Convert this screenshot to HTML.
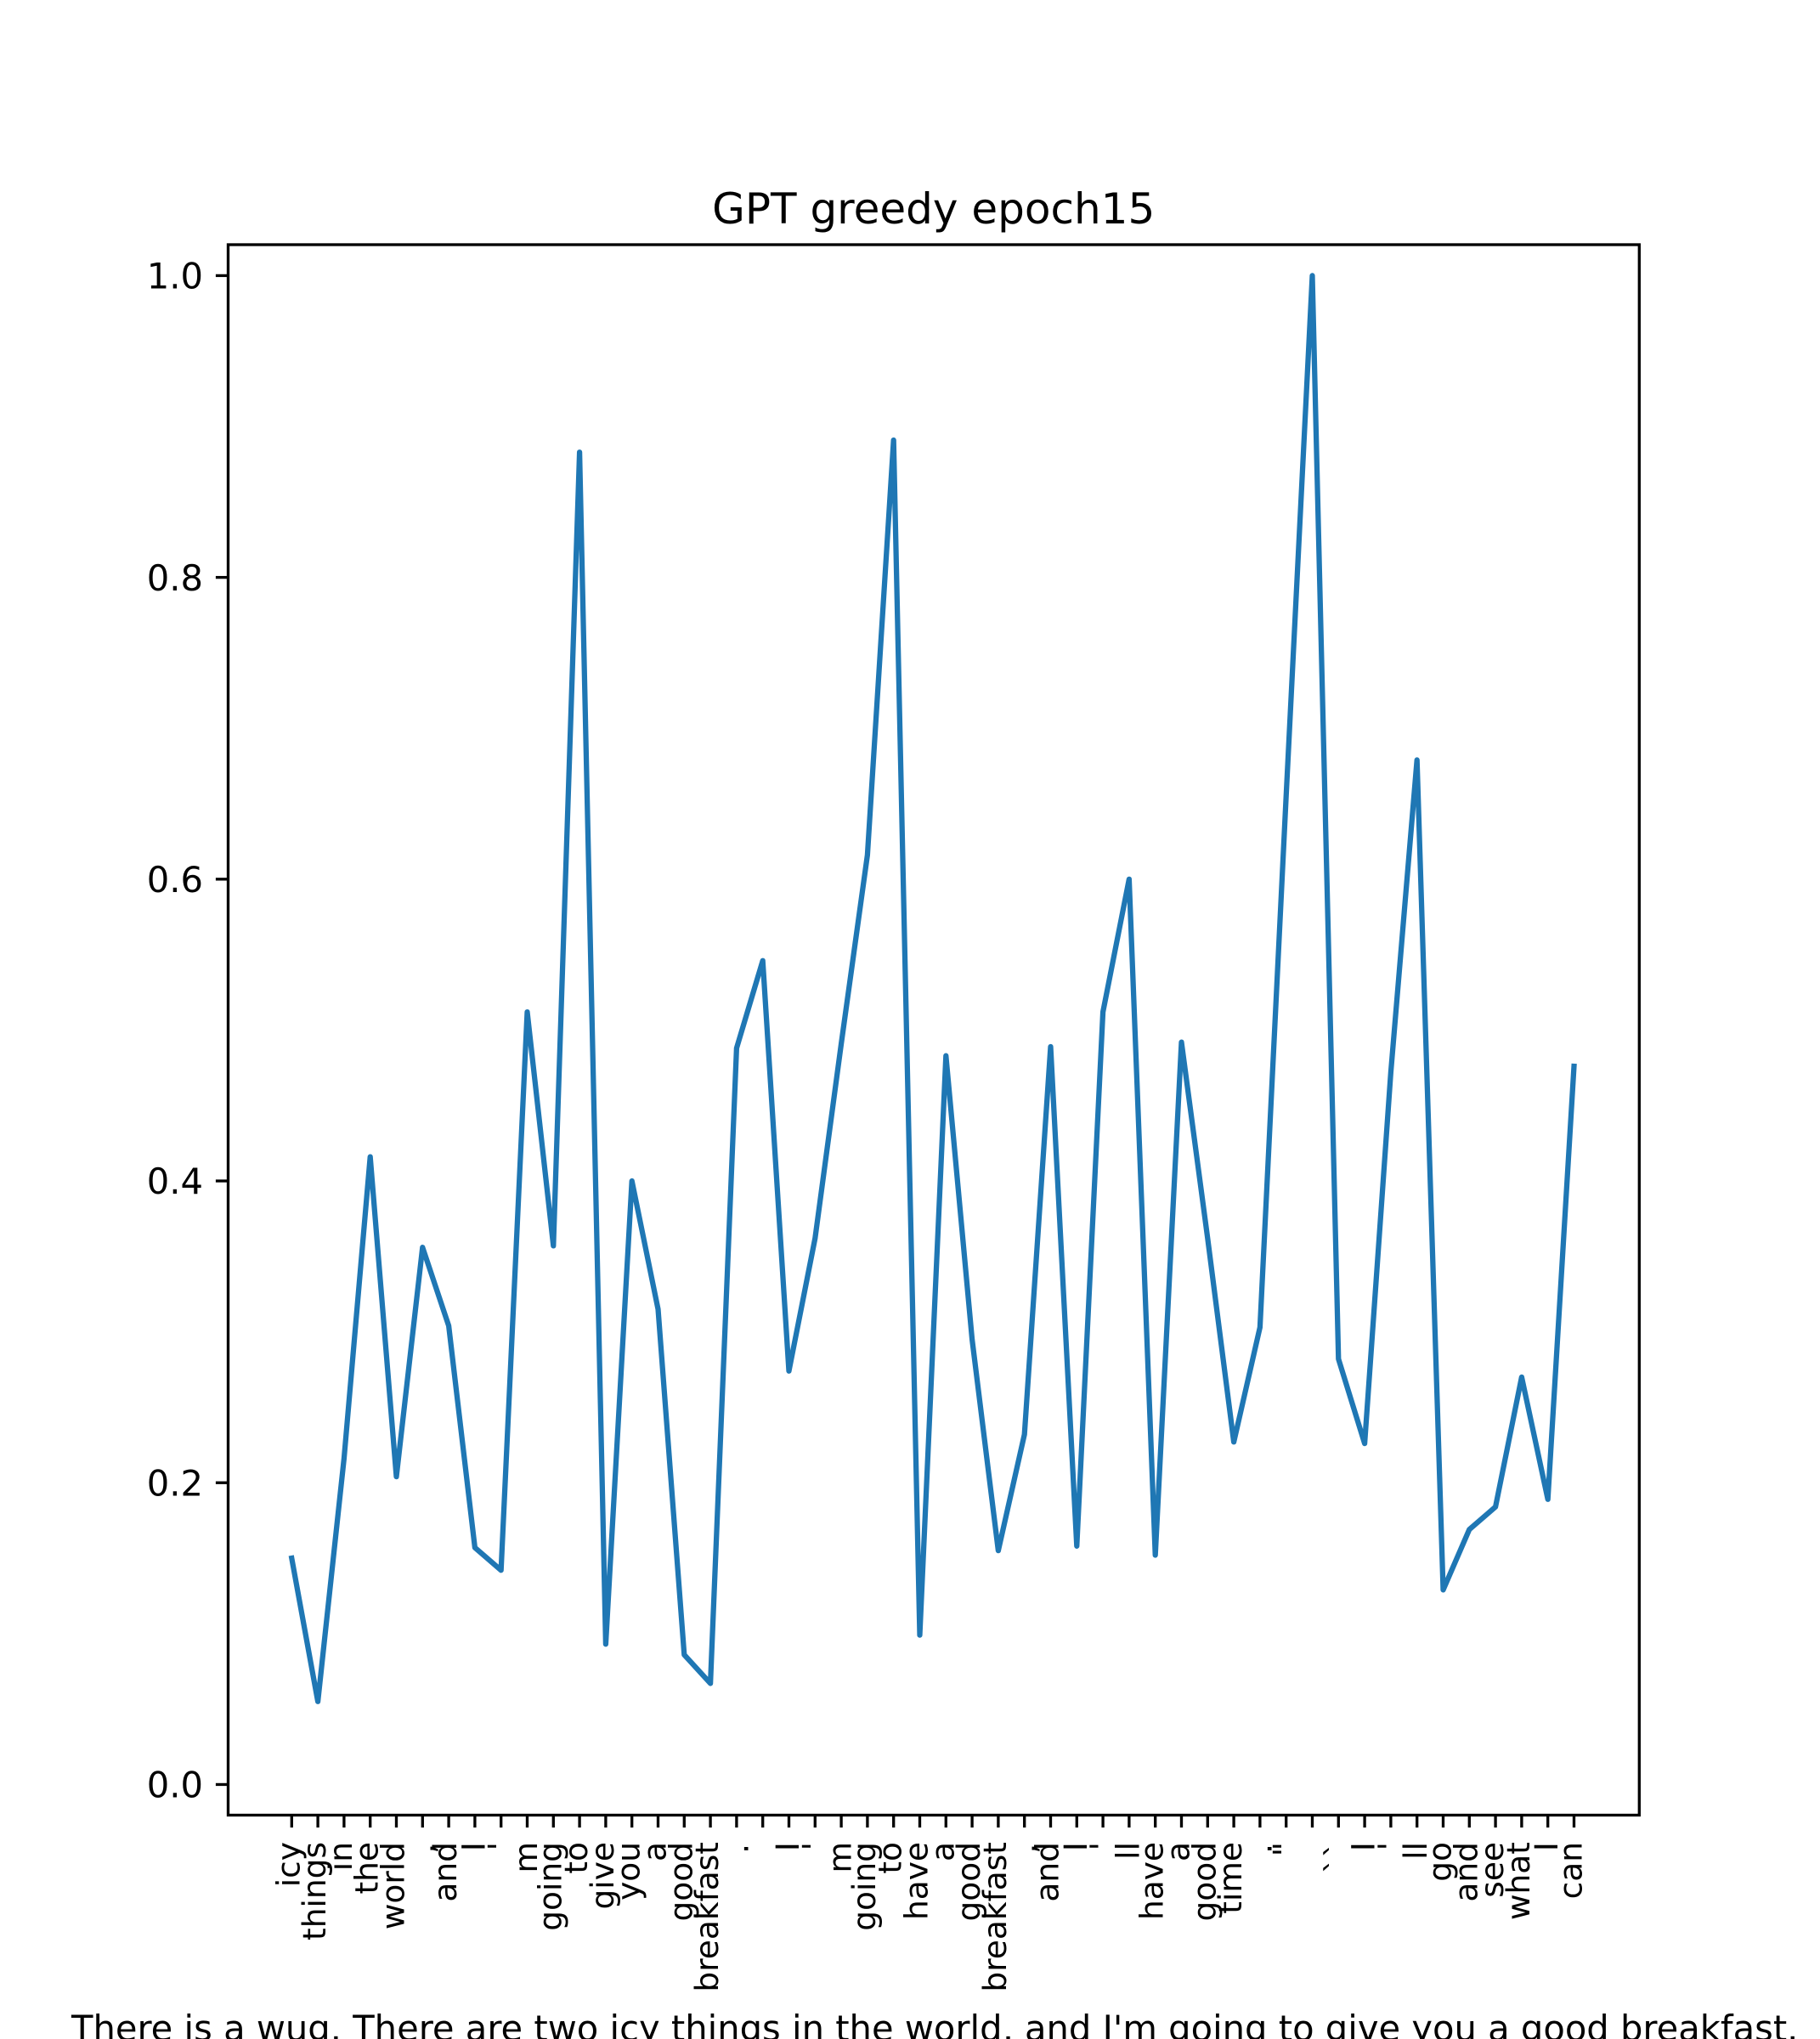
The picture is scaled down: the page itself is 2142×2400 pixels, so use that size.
<!DOCTYPE html>
<html lang="en">
<head>
<meta charset="utf-8">
<title>GPT greedy epoch15</title>
<style>
html,body{margin:0;padding:0;background:#fff;width:2142px;height:2400px;overflow:hidden}
svg{display:block}
text{font-family:"DejaVu Sans","Liberation Sans",sans-serif;fill:#000}
</style>
</head>
<body>
<svg id="chart" xmlns="http://www.w3.org/2000/svg" width="2142" height="2400" viewBox="0 0 2142 2400">
  <rect x="0" y="0" width="2142" height="2400" fill="#ffffff"></rect>
  <text x="1098.7" y="263" font-size="50" text-anchor="middle">GPT greedy epoch15</text>
  <text x="84" y="2402" font-size="41.67">There is a wug. There are two icy things in the world, and I'm going to give you a good breakfast.</text>
</svg>
<script>
const tokens = ["icy","things","in","the","world",",","and","I","'","m","going","to","give","you","a","good","breakfast",".","","I","'","m","going","to","have","a","good","breakfast",",","and","I","'","ll","have","a","good","time",".","\"","","``","I","'","ll","go","and","see","what","I","can"];
const attention = [0.150,0.055,0.216,0.416,0.204,0.356,0.304,0.157,0.142,0.512,0.357,0.883,0.093,0.400,0.315,0.086,0.067,0.488,0.546,0.274,0.362,0.491,0.616,0.891,0.099,0.483,0.295,0.155,0.232,0.489,0.158,0.512,0.600,0.152,0.492,0.362,0.227,0.303,0.655,1.000,0.282,0.226,0.472,0.679,0.129,0.169,0.184,0.270,0.189,0.476];
const yTicks = [0,0.2,0.4,0.6,0.8,1.0];
const yTickLabels = ["0.0","0.2","0.4","0.6","0.8","1.0"];

const NS = "http://www.w3.org/2000/svg";
const svg = document.getElementById("chart");
const plot = {left:268.5, right:1929.3, top:288, bottom:2136.5};
const xMin = -2.4286, xMax = 51.494;
const yMin = -0.0203, yMax = 1.0205;
function xScale(i){ return plot.left + (i - xMin) / (xMax - xMin) * (plot.right - plot.left); }
function yScale(v){ return plot.bottom - (v - yMin) / (yMax - yMin) * (plot.bottom - plot.top); }
function make(tag, attrs){
  const el = document.createElementNS(NS, tag);
  for (const k in attrs) el.setAttribute(k, attrs[k]);
  return el;
}

const series = make("polyline", {
  points: attention.map((v, i) => xScale(i).toFixed(2) + "," + yScale(v).toFixed(2)).join(" "),
  fill: "none", stroke: "#1f77b4", "stroke-width": 6.25,
  "stroke-linejoin": "round", "stroke-linecap": "square"
});


svg.appendChild(series);

const frame = make("rect", {
  x: plot.left, y: plot.top, width: plot.right - plot.left, height: plot.bottom - plot.top,
  fill: "none", stroke: "#000", "stroke-width": 3.33
});


svg.appendChild(frame);

yTicks.forEach((v, i) => {
  const y = yScale(v);
  const tick = make("line", {x1: plot.left, x2: plot.left - 14.6, y1: y, y2: y, stroke: "#000", "stroke-width": 3.33});
  
  
  svg.appendChild(tick);
  const label = make("text", {x: plot.left - 29.5, y: y + 15.2, "font-size": 41.67, "text-anchor": "end"});
  
  
  label.textContent = yTickLabels[i];
  svg.appendChild(label);
});

const noLeadingShift = /^('|"|``|m|ll|I)$/;
const punctuation = /^(\.|,)$/;
tokens.forEach((t, i) => {
  const x = xScale(i);
  const tick = make("line", {x1: x, x2: x, y1: plot.bottom, y2: plot.bottom + 14.6, stroke: "#000", "stroke-width": 3.33});
  
  
  svg.appendChild(tick);
  const bx = x + (punctuation.test(t) ? 13.5 : noLeadingShift.test(t) ? 11.5 : 9), by = punctuation.test(t) ? 2170 : 2168;
  const label = make("text", {x: 0, y: 0, "font-size": 37.5, "text-anchor": "end", transform: "translate(" + bx.toFixed(2) + "," + by + ") rotate(-90)"});
  
  
  label.textContent = t;
  svg.appendChild(label);
});
</script>
</body>
</html>
